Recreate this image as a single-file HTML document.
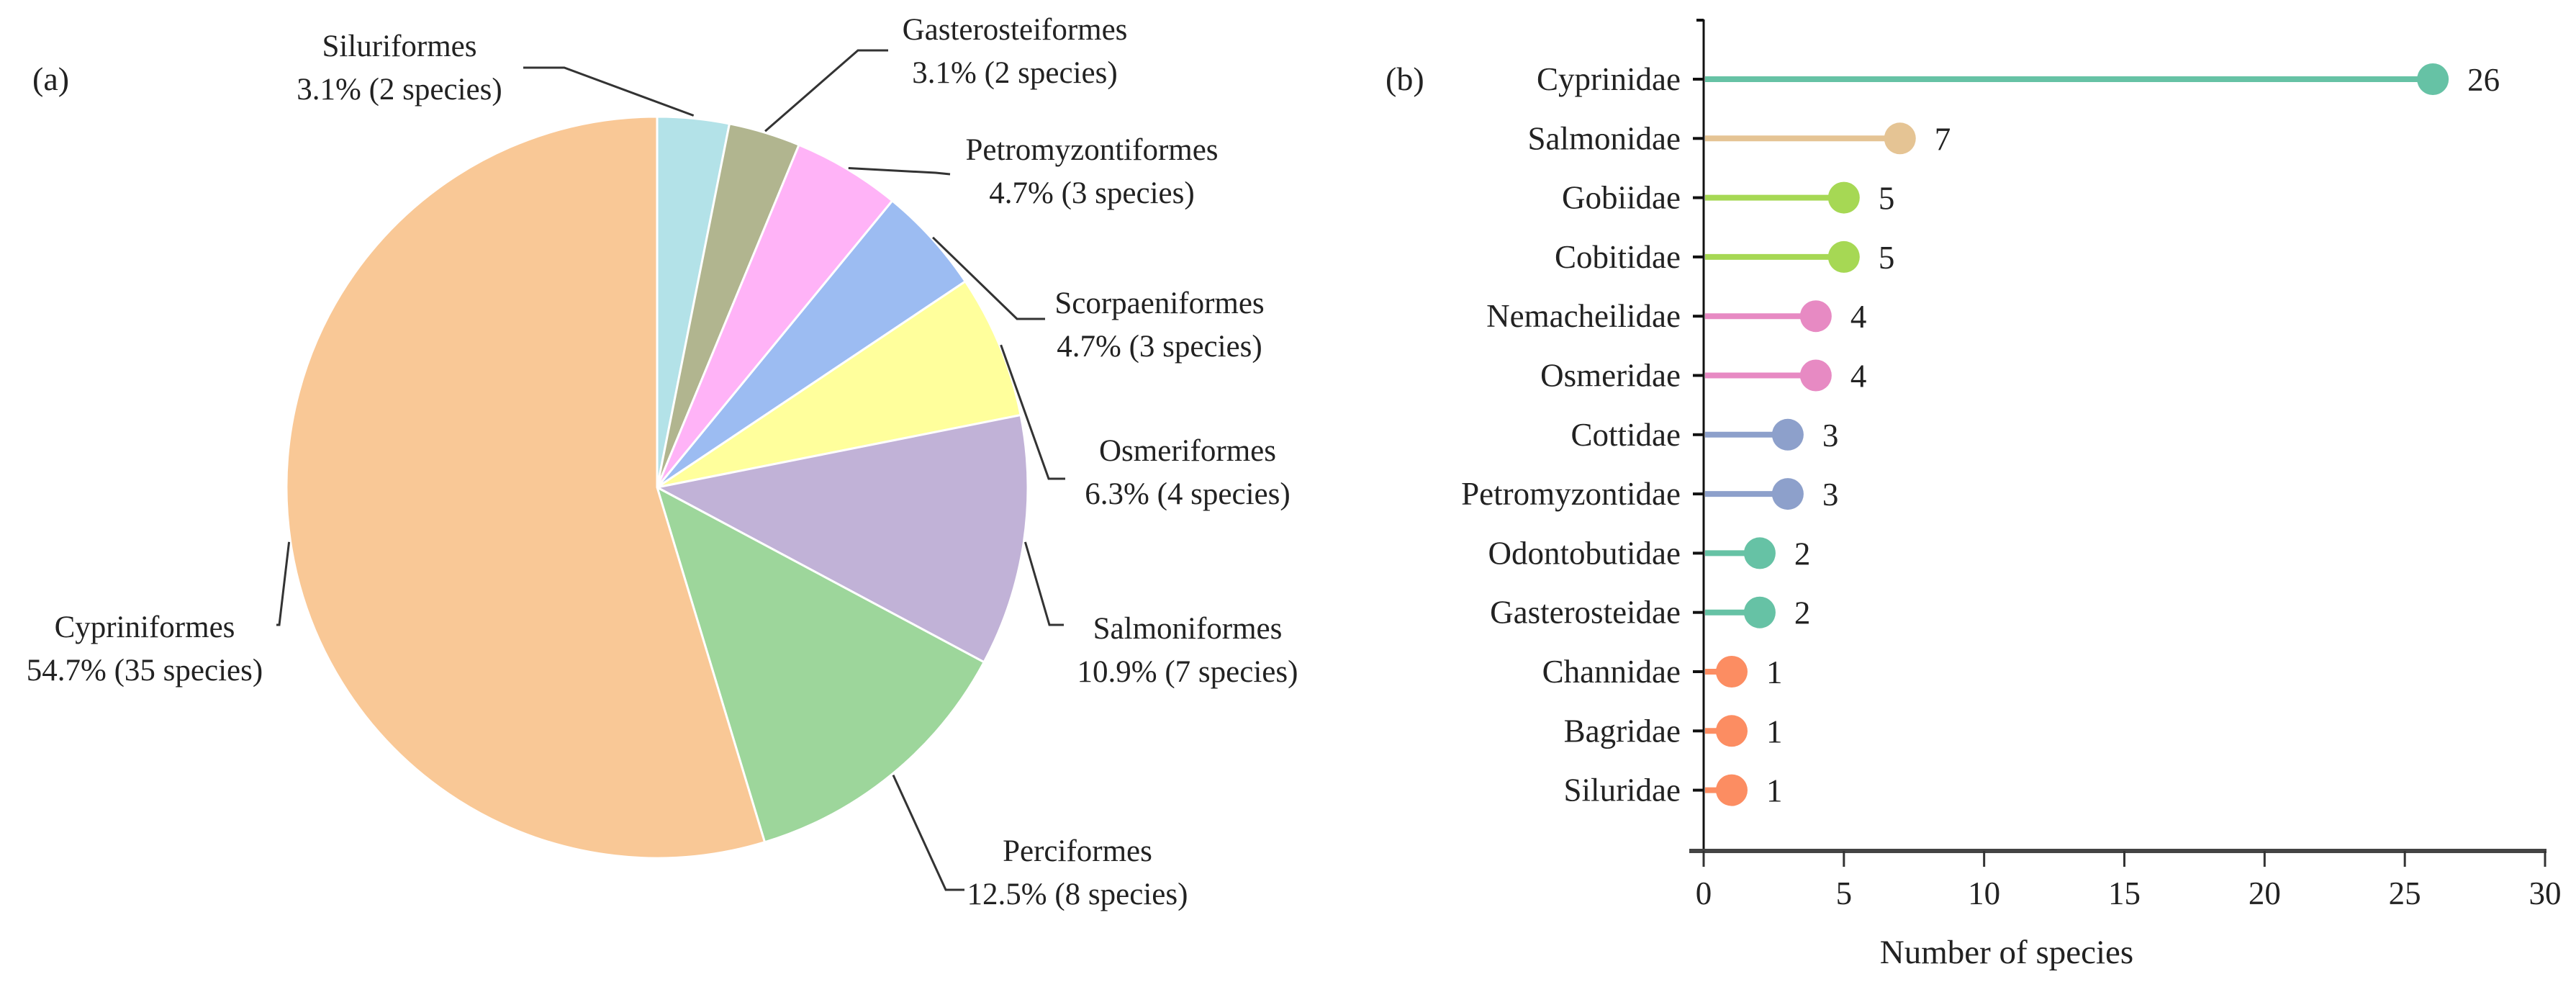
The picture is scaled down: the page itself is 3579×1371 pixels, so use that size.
<!DOCTYPE html>
<html><head><meta charset="utf-8"><style>
html,body{margin:0;padding:0;background:#fff}
svg{display:block}
text{font-family:"Liberation Serif",serif;fill:#222}
</style></head><body>
<svg id="fig" width="3579" height="1371" viewBox="0 0 3579 1371" xmlns="http://www.w3.org/2000/svg">
<text x="45" y="125" font-size="46">(a)</text>
<text x="1925" y="125" font-size="46">(b)</text>
<g id="pie"></g>
<g id="lolli"></g>
</svg>
<script>
const orders = ["Siluriformes","Gasterosteiformes","Petromyzontiformes","Scorpaeniformes","Osmeriformes","Salmoniformes","Perciformes","Cypriniformes"];
const orderCounts = [2,2,3,3,4,7,8,35];
const orderPct = ["3.1%","3.1%","4.7%","4.7%","6.3%","10.9%","12.5%","54.7%"];
const families = ["Cyprinidae","Salmonidae","Gobiidae","Cobitidae","Nemacheilidae","Osmeridae","Cottidae","Petromyzontidae","Odontobutidae","Gasterosteidae","Channidae","Bagridae","Siluridae"];
const familyCounts = [26,7,5,5,4,4,3,3,2,2,1,1,1];
const xTicks = [0,5,10,15,20,25,30];

const NS="http://www.w3.org/2000/svg";
function mk(tag, attrs, parent){const e=document.createElementNS(NS,tag);for(const k in attrs)e.setAttribute(k,attrs[k]);parent.appendChild(e);return e;}

// ---------- Pie ----------
const pie=document.getElementById('pie');
const cx=913, cy=677, R=515;
const pieColors=["#b3e2e8","#b1b58f","#ffb3f7","#9cbcf2","#ffff9c","#c1b2d7","#9dd69b","#f9c896"];
const labelPos=[[555,78],[1410,55],[1517,222],[1611,435],[1650,640],[1650,887],[1497,1196],[201,885]];
const leaders=[[[972,112],[784,94],[727,94]],[[1192,70],[1234,70]],[[1320,242],[1325,242]],[[1413,443],[1452,443]],[[1457,665],[1480,665]],[[1458,868],[1478,868]],[[1314,1236],[1340,1236]],[[388,868],[384,868]]];
const total=orderCounts.reduce((a,b)=>a+b,0);
let cum=0;
orders.forEach((name,i)=>{
  const a0=cum/total*2*Math.PI; cum+=orderCounts[i]; const a1=cum/total*2*Math.PI;
  const x0=cx+R*Math.sin(a0), y0=cy-R*Math.cos(a0), x1=cx+R*Math.sin(a1), y1=cy-R*Math.cos(a1);
  const large=(a1-a0)>Math.PI?1:0;
  const p=mk('path',{d:`M${cx},${cy} L${x0},${y0} A${R},${R} 0 ${large} 1 ${x1},${y1} Z`,fill:pieColors[i],stroke:"#fff","stroke-width":3},pie);
  
  
  const am=(a0+a1)/2;
  const ex=cx+(R+2)*Math.sin(am), ey=cy-(R+2)*Math.cos(am);
  let pts=[[ex,ey]];
  if(i===0){pts=[[ex,ey-2],[784,94],[727,94]];}
  else if(i===1){pts=[[ex,ey],[1192,70],[1234,70]];}
  else if(i===2){pts=[[ex,ey],[1300,240],[1320,242]];}
  else pts=pts.concat(leaders[i]);
  const l=mk('polyline',{points:pts.map(q=>q.join(',')).join(' '),fill:"none",stroke:"#333","stroke-width":3},pie);
  
  
  const [tx,ty]=labelPos[i];
  const t=mk('text',{x:tx,y:ty,"font-size":43,"text-anchor":"middle"},pie);
  
  
  const s1=mk('tspan',{x:tx,dy:0},t); s1.textContent=name;
  const s2=mk('tspan',{x:tx,dy:60},t); s2.textContent=orderPct[i]+" ("+orderCounts[i]+" species)";
});

// ---------- Lollipop ----------
const lo=document.getElementById('lolli');
const X0=2367, X1=3536, xMax=30, AY=1182, YTOP=27, ROW0=110, ROWH=82.3;
const xs=v=>X0+(X1-X0)*v/xMax;
const ys=i=>ROW0+i*ROWH;
const famColors=["#66c2a5","#e5c494","#a6d854","#a6d854","#e78ac3","#e78ac3","#8da0cb","#8da0cb","#66c2a5","#66c2a5","#fc8d62","#fc8d62","#fc8d62"];
let e;
e=mk('line',{x1:X0,y1:YTOP,x2:X0,y2:AY,stroke:"#111","stroke-width":3},lo);


e=mk('line',{x1:X0-10,y1:YTOP+1,x2:X0,y2:YTOP+1,stroke:"#111","stroke-width":4},lo);


e=mk('line',{x1:X0-20,y1:AY,x2:X1+2,y2:AY,stroke:"#444","stroke-width":6},lo);


xTicks.forEach(v=>{
  const x=xs(v);
  const tk=mk('line',{x1:x,y1:AY,x2:x,y2:AY+22,stroke:"#333","stroke-width":3},lo);
  
  
  const t=mk('text',{x:x,y:AY+74,"font-size":45,"text-anchor":"middle"},lo);
  t.textContent=v;
  
  
});
e=mk('text',{x:2788,y:1338,"font-size":47,"text-anchor":"middle"},lo);
e.textContent="Number of species";


families.forEach((f,i)=>{
  const y=ys(i), x=xs(familyCounts[i]);
  const tk=mk('line',{x1:X0-15,y1:y,x2:X0,y2:y,stroke:"#111","stroke-width":4},lo);
  
  
  const lab=mk('text',{x:2335,y:y+15,"font-size":45,"text-anchor":"end"},lo);
  lab.textContent=f;
  
  
  const st=mk('line',{x1:X0+2,y1:y,x2:x,y2:y,stroke:famColors[i],"stroke-width":8},lo);
  
  
  const c=mk('circle',{cx:x,cy:y,r:22,fill:famColors[i]},lo);
  
  
  const vl=mk('text',{x:x+48,y:y+16,"font-size":45},lo);
  vl.textContent=familyCounts[i];
  
  
});
</script>
</body></html>
